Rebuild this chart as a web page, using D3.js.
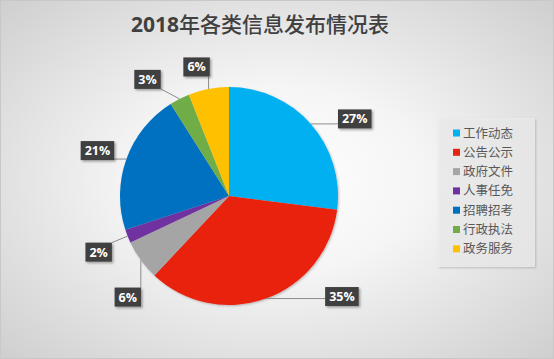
<!DOCTYPE html>
<html><head><meta charset="utf-8">
<script src="https://cdn.jsdelivr.net/npm/d3@7"></script>
<style>html,body{margin:0;padding:0;background:#fff;}svg{display:block;}</style>
</head><body>
<script>
const titleYear = "2018";
const titleRest = "年各类信息发布情况表";
const categories = ["工作动态","公告公示","政府文件","人事任免","招聘招考","行政执法","政务服务"];
const values = [27,35,6,2,21,3,6];
const colors = ["#00B0F0","#E8230F","#A5A5A5","#7030A0","#0070C0","#70AD47","#FFC000"];
// label box offsets relative to leader anchor (layout only)
const labelOffsets = [[44,-5],[76,-2],[-13,37],[-29,16],[-29,-8.5],[-32,-19.5],[-12,-22]];

const W=554,H=359;
const svg=d3.select("body").append("svg").attr("width",W).attr("height",H);
const defs=svg.append("defs");
const bg=defs.append("radialGradient").attr("id","bg").attr("cx","50%").attr("cy","50%").attr("r","75%");
bg.append("stop").attr("offset","0%").attr("stop-color","#ffffff");
bg.append("stop").attr("offset","35%").attr("stop-color","#f5f5f5");
bg.append("stop").attr("offset","100%").attr("stop-color","#cbcbcb");
const sh=defs.append("filter").attr("id","sh").attr("x","-30%").attr("y","-30%").attr("width","170%").attr("height","170%");
sh.append("feDropShadow").attr("dx",1.5).attr("dy",1.5).attr("stdDeviation",1).attr("flood-color","#000").attr("flood-opacity",0.35);
const psh=defs.append("filter").attr("id","psh").attr("x","-10%").attr("y","-10%").attr("width","120%").attr("height","120%");
psh.append("feDropShadow").attr("dx",1).attr("dy",1).attr("stdDeviation",1.2).attr("flood-color","#000").attr("flood-opacity",0.25);

svg.append("rect").attr("x",0.5).attr("y",0.5).attr("width",W-1).attr("height",H-1)
  .attr("fill","url(#bg)").attr("stroke","#c8c8c8");

const tt=svg.append("text").attr("x",260).attr("y",32).attr("text-anchor","middle")
  .attr("font-family","'Noto Sans CJK SC',sans-serif")
  .attr("font-size",21).attr("fill","#404040");
tt.append("tspan").attr("font-weight","bold").attr("font-family","'Open Sans',sans-serif").text(titleYear);
tt.append("tspan").attr("font-weight","500").text(titleRest);

const cx=229,cy=196,R=109;
const pie=d3.pie().sort(null).value(d=>d)(values);
const arc=d3.arc().innerRadius(0).outerRadius(R);
const g=svg.append("g").attr("transform",`translate(${cx},${cy})`);
g.append("g").attr("filter","url(#psh)").selectAll("path").data(pie).join("path")
  .attr("d",arc).attr("fill",(d,i)=>colors[i]);

const labels=g.append("g");
pie.forEach((d,i)=>{
  const mid=(d.startAngle+d.endAngle)/2;
  const ax=R*Math.sin(mid), ay=-R*Math.cos(mid);
  const lx=ax+labelOffsets[i][0], ly=ay+labelOffsets[i][1];
  const t=labels.append("text").attr("x",lx).attr("y",ly+4.5).attr("text-anchor","middle")
    .attr("font-family","'Open Sans',sans-serif").attr("font-weight","bold").attr("font-size",12.5)
    .attr("fill","#fff").text(Math.round(d.data)+"%");
  const tw=t.node().getComputedTextLength();
  const bw=tw+8,bh=19;
  const bx=lx-bw/2,by=ly-bh/2;
  const px=Math.max(bx,Math.min(ax,bx+bw)), py=Math.max(by,Math.min(ay,by+bh));
  labels.insert("line","text").attr("x1",ax).attr("y1",ay).attr("x2",px).attr("y2",py)
    .attr("stroke","#8c8c8c").attr("stroke-width",1);
  labels.insert("rect","text").attr("x",bx).attr("y",by).attr("width",bw).attr("height",bh)
    .attr("fill","#404040").attr("filter","url(#sh)");
});

// legend
const lg=svg.append("g");
lg.append("rect").attr("x",438).attr("y",118).attr("width",97).attr("height",149)
  .attr("fill","#eeeeee").attr("fill-opacity",0.7).attr("filter","url(#psh)");
categories.forEach((c,i)=>{
  const y=133+i*19.3;
  lg.append("rect").attr("x",453).attr("y",y-3.5).attr("width",7).attr("height",7).attr("fill",colors[i]);
  lg.append("text").attr("x",463).attr("y",y+4.5).attr("font-family","'Noto Sans CJK SC',sans-serif")
    .attr("font-size",12.5).attr("fill","#595959").text(c);
});
</script>
</body></html>
